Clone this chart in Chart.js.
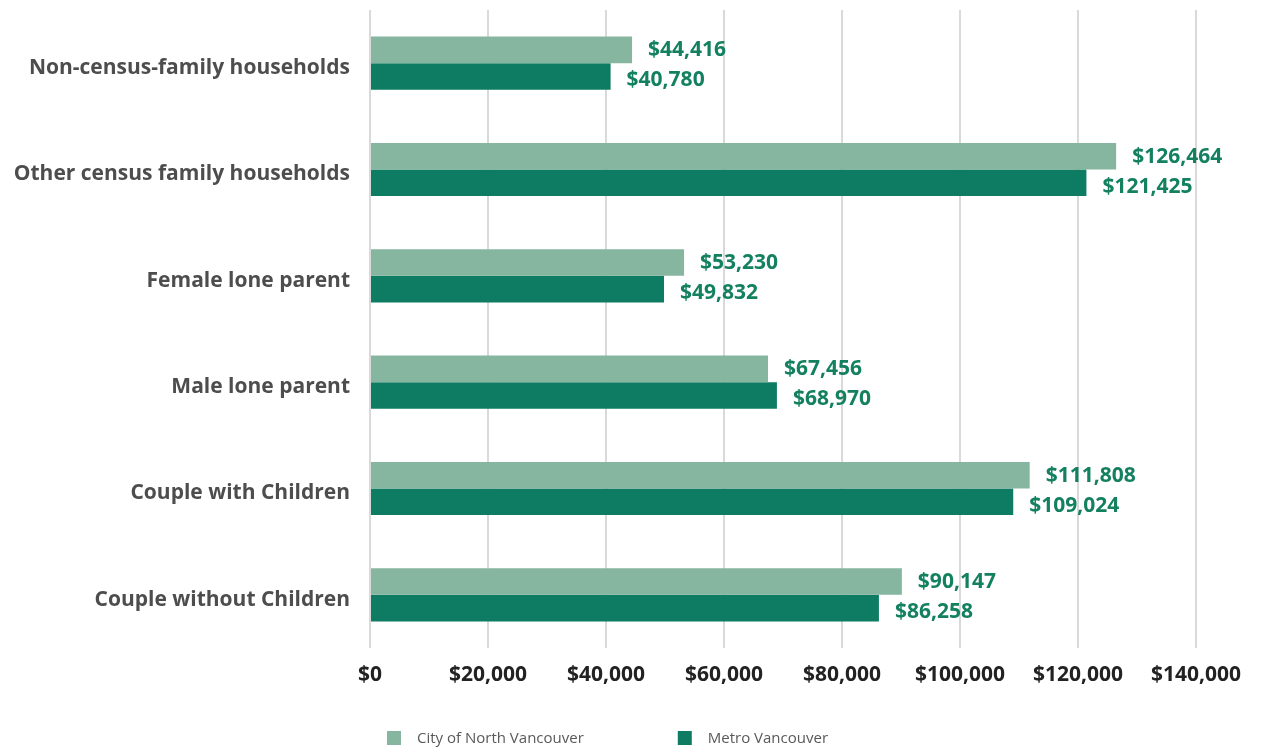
<!DOCTYPE html>
<html>
<head>
<meta charset="utf-8">
<script src="https://cdn.jsdelivr.net/npm/chart.js@4/dist/chart.umd.min.js"></script>
<style>
  body { margin: 0; background: #fff; }
  #wrap { width: 1276px; height: 747px; position: relative; }
</style>
</head>
<body>
<div id="wrap"><canvas id="income-chart"></canvas></div>
<script>
const categories = [
  "Non-census-family households",
  "Other census family households",
  "Female lone parent",
  "Male lone parent",
  "Couple with Children",
  "Couple without Children",
];
const seriesNames = ["City of North Vancouver", "Metro Vancouver"];
const cityValues = [44416, 126464, 53230, 67456, 111808, 90147];
const metroValues = [40780, 121425, 49832, 68970, 109024, 86258];
const xTicks = [0, 20000, 40000, 60000, 80000, 100000, 120000, 140000];

const lightGreen = "#86b5a0";
const darkGreen = "#0e7c62";
const labelGreen = "#13805f";

function money(v) {
  return "$" + v.toLocaleString("en-US");
}

// value labels at the end of each bar
const valueLabels = {
  id: "valueLabels",
  afterDatasetsDraw(chart) {
    const ctx = chart.ctx;
    const nudge = [0.5, 4];
    ctx.save();
    ctx.font = "bold 21px 'Open Sans'";
    ctx.fillStyle = labelGreen;
    ctx.textAlign = "left";
    ctx.textBaseline = "middle";
    chart.data.datasets.forEach((ds, i) => {
      const meta = chart.getDatasetMeta(i);
      meta.data.forEach((bar, j) => {
        ctx.fillText(money(ds.data[j]), bar.x + 16, bar.y + nudge[i]);
      });
    });
    ctx.restore();
  },
};

// simple legend under the axis
const bottomLegend = {
  id: "bottomLegend",
  afterDraw(chart) {
    const ctx = chart.ctx;
    ctx.save();
    ctx.font = "15px 'Open Sans'";
    ctx.textBaseline = "middle";
    let x = 387;
    const y = 738;
    chart.data.datasets.forEach((ds) => {
      ctx.fillStyle = ds.backgroundColor;
      ctx.fillRect(x, y - 7, 14, 14);
      ctx.fillStyle = "#595959";
      ctx.fillText(ds.label, x + 30, y + 1);
      x += 30 + ctx.measureText(ds.label).width + 94;
    });
    ctx.restore();
  },
};

Chart.defaults.font.family = "'Open Sans', sans-serif";

new Chart(document.getElementById("income-chart"), {
  type: "bar",
  data: {
    labels: categories,
    datasets: [
      {
        label: seriesNames[0],
        data: cityValues,
        backgroundColor: lightGreen,
      },
      {
        label: seriesNames[1],
        data: metroValues,
        backgroundColor: darkGreen,
      },
    ],
  },
  options: {
    indexAxis: "y",
    responsive: true,
    maintainAspectRatio: false,
    animation: false,
    layout: {
      padding: { left: 0, right: 80, top: 10, bottom: 59 },
    },
    datasets: {
      bar: {
        categoryPercentage: 0.5,
        barPercentage: 1.0,
      },
    },
    scales: {
      x: {
        min: 0,
        max: 140000,
        afterBuildTicks(scale) {
          scale.ticks = xTicks.map((v) => ({ value: v }));
        },
        afterFit(scale) {
          scale.height = 40;
          scale.paddingLeft = 0;
          scale.paddingRight = 0;
        },
        border: { display: false },
        grid: {
          color: "#d9d9d9",
          lineWidth: 2,
          drawTicks: false,
        },
        ticks: {
          padding: 14,
          maxRotation: 0,
          autoSkip: false,
          color: "#222222",
          font: { size: 21, weight: "bold" },
          callback: (v) => money(v),
        },
      },
      y: {
        afterFit(scale) {
          scale.width = 370;
          scale.paddingTop = 0;
          scale.paddingBottom = 0;
        },
        border: { display: false },
        grid: { display: false, drawTicks: false },
        ticks: {
          padding: 20,
          labelOffset: 5,
          color: "#4d4d4d",
          font: { size: 21, weight: "bold" },
        },
      },
    },
    plugins: {
      legend: { display: false },
      tooltip: { enabled: false },
    },
  },
  plugins: [valueLabels, bottomLegend],
});
</script>
</body>
</html>
